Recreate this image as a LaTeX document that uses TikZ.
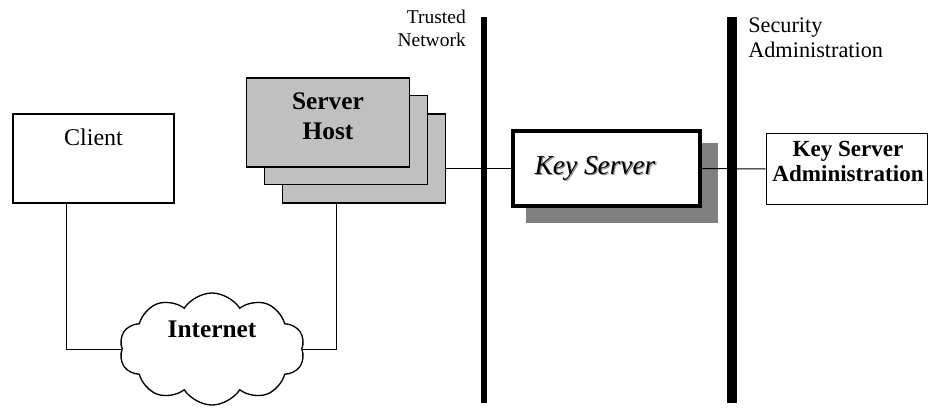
\documentclass[tikz,border=0pt]{standalone}
\usepackage{fontspec}
\setmainfont{Liberation Serif}
\usetikzlibrary{shapes.symbols}
\definecolor{hostgray}{HTML}{C0C0C0}
\definecolor{shadowgray}{HTML}{808080}
\definecolor{textshadow}{HTML}{909090}
\begin{document}
\begin{tikzpicture}[x=0.75pt,y=-0.75pt,
  box/.style={draw, rectangle, line width=1.1pt, inner sep=0pt},
  hostbox/.style={box, fill=hostgray, minimum width=121.9pt, minimum height=67pt},
  wire/.style={line width=0.75pt},
  bar/.style={fill=black, rectangle, inner sep=0pt, minimum height=289.5pt},
  lbl/.style={inner sep=0pt, font=\fontsize{18}{22.5}\selectfont, align=center},
  blbl/.style={inner sep=0pt, font=\fontsize{19}{22.5}\selectfont\bfseries, align=center},
  small/.style={inner sep=0pt, font=\fontsize{14.6}{17.3}\selectfont}
]
\useasboundingbox (0,0) rectangle (928,407);

% client
\node[box, minimum width=121pt, minimum height=67pt] (client) at (93.5,158.5) {};
\node[lbl, anchor=north] (clienttxt) at (93.5,129) {Client};

% server host stack
\node[hostbox] (host3) at (364,158.5) {};
\node[hostbox] (host2) at (346,140) {};
\node[hostbox] (host1) at (328,122.5) {};
\node[blbl, anchor=north] (hosttxt) at (328,92.5) {Server\\Host};

% internet cloud
\node[cloud, draw, line width=1pt, cloud puffs=10, cloud puff arc=115, aspect=1.65,
      minimum width=139pt, minimum height=84pt, inner sep=0pt] (inet) at (212,349) {};
\node[blbl, anchor=north] (inettxt) at (212,321) {Internet};

% bars
\node[bar, minimum width=4.5pt] (tbar) at (484,210) {};
\node[bar, minimum width=7.5pt] (sbar) at (732,210) {};
\node[small, anchor=north east, align=right] (trusted) at (466,9.5) {Trusted\\Network};
\node[inner sep=0pt, anchor=north west, align=left, font=\fontsize{16.7}{18.5}\selectfont] (secadm) at (748,17.5) {Security\\Administration};

% key server
\node[fill=shadowgray, rectangle, inner sep=0pt, minimum width=144pt, minimum height=60pt] (kshadow) at (622,183) {};
\node[draw, fill=white, rectangle, line width=3pt, inner sep=0pt, minimum width=140pt, minimum height=56pt] (keysrv) at (606.5,168.5) {};
\node[inner sep=0pt, anchor=north, text=textshadow, font=\fontsize{20.5}{24}\selectfont\itshape] (kstxtsh) at (596.3,157.3) {Key Server};
\node[inner sep=0pt, anchor=north, font=\fontsize{20.5}{24}\selectfont\itshape] (kstxt) at (595,156) {Key Server};

% admin
\node[draw, rectangle, line width=0.9pt, inner sep=0pt, minimum width=121.3pt, minimum height=53.5pt] (admin) at (847,169) {};
\node[inner sep=0pt, anchor=north, align=center, font=\fontsize{17.3}{18.75}\selectfont\bfseries] (admintxt) at (848,141) {Key Server\\Administration};

% connectors
\draw[wire] ([xshift=54pt*0.75]client.south west) |- (inet.west);
\draw[wire] ([xshift=54.5pt*0.75]host3.south west) |- (inet.east);
\draw[wire] (host3.east |- keysrv.west) -- (keysrv.west);
\draw[wire] (keysrv.east) -- (admin.west);
\end{tikzpicture}
\end{document}
